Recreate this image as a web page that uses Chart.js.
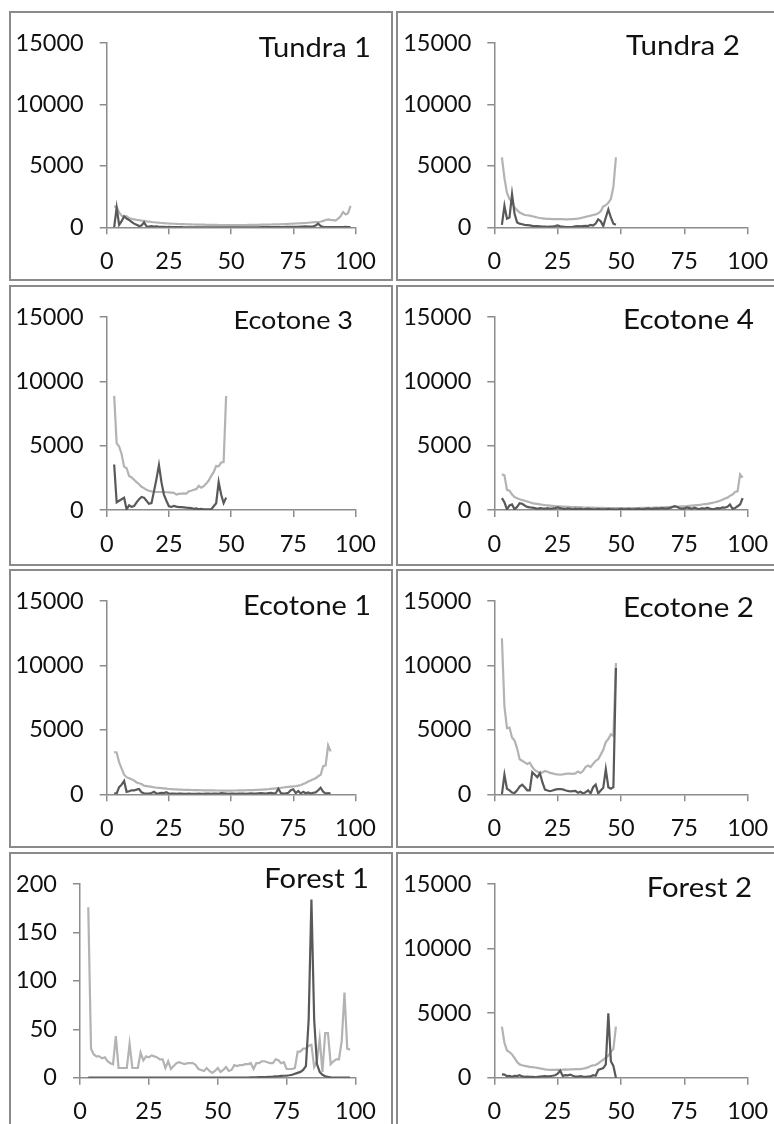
<!DOCTYPE html>
<html>
<head>
<meta charset="utf-8">
<script src="https://cdn.jsdelivr.net/npm/chart.js@4"></script>
<style>
  html, body { margin: 0; padding: 0; background: #fff; }
  body { width: 774px; height: 1124px; position: relative; overflow: hidden; }
  .panel { position: absolute; border: 2px solid #8a8a8a; box-sizing: border-box; background: #fff; }
  .panel canvas { position: absolute; left: 0; top: 0; }
</style>
</head>
<body>
<script>
// every series starts at position 3 and steps by 1
const X_START = 3;

const xTicks = [0, 25, 50, 75, 100];
const yTicks = [0, 5000, 10000, 15000];
const yTicksForest1 = [0, 50, 100, 150, 200];

const panelNames = ['Tundra 1', 'Tundra 2', 'Ecotone 3', 'Ecotone 4', 'Ecotone 1', 'Ecotone 2', 'Forest 1', 'Forest 2'];

const tundra1Light = [
  1700, 1650, 1200, 950, 850, 900, 750, 700, 650, 600,
  580, 540, 520, 480, 460, 430, 410, 390, 370, 350,
  340, 320, 310, 300, 290, 280, 270, 260, 255, 250,
  240, 235, 230, 225, 220, 215, 210, 205, 200, 198,
  195, 190, 188, 185, 183, 180, 180, 178, 178, 180,
  180, 182, 185, 188, 190, 195, 198, 200, 205, 210,
  215, 220, 225, 230, 235, 240, 245, 250, 260, 270,
  280, 290, 300, 310, 320, 330, 340, 350, 370, 390,
  410, 420, 430, 450, 520, 600, 650, 600, 580, 550,
  700, 900, 1250, 1050, 1150, 1750];
const tundra1Dark = [
  0, 1600, 200, 500, 900, 700, 600, 450, 300, 200,
  100, 150, 400, 80, 60, 100, 50, 80, 40, 30,
  40, 20, 30, 20, 10, 15, 10, 10, 5, 5,
  5, 5, 5, 5, 5, 5, 5, 5, 5, 5,
  5, 5, 5, 5, 5, 5, 5, 5, 5, 5,
  5, 5, 5, 5, 5, 5, 5, 5, 5, 10,
  10, 10, 15, 15, 20, 20, 20, 25, 25, 30,
  30, 30, 40, 40, 40, 50, 60, 80, 60, 50,
  80, 150, 300, 100, 40, 20, 15, 10, 10, 10,
  10, 10, 20, 30, 20, 10];

const tundra2Light = [
  5700, 4000, 2800, 2300, 2100, 1600, 1400, 1200, 1100, 1000,
  980, 950, 900, 850, 800, 760, 730, 700, 690, 680,
  670, 660, 660, 670, 660, 650, 650, 660, 660, 680,
  700, 750, 800, 850, 900, 950, 1000, 1050, 1150, 1300,
  1700, 1800, 2000, 2300, 3300, 5700];
const tundra2Dark = [
  200, 1750, 700, 800, 2700, 1100, 400, 300, 250, 200,
  180, 150, 120, 100, 100, 80, 60, 50, 40, 50,
  60, 100, 150, 80, 50, 30, 20, 10, 40, 80,
  100, 80, 100, 120, 100, 200, 150, 300, 650, 500,
  100, 800, 1450, 800, 300, 200];

const ecotone3Light = [
  8870, 5180, 4940, 4340, 3370, 3250, 2650, 2530, 2350, 2170,
  2000, 1800, 1700, 1570, 1500, 1450, 1420, 1400, 1400, 1400,
  1390, 1380, 1370, 1350, 1330, 1200, 1250, 1280, 1300, 1280,
  1450, 1500, 1570, 1620, 1880, 1730, 1850, 2050, 2290, 2650,
  2940, 3420, 3400, 3690, 3730, 8870];
const ecotone3Dark = [
  3540, 600, 720, 840, 960, 50, 360, 240, 300, 600,
  840, 1010, 960, 720, 480, 530, 1450, 2410, 3490, 2170,
  1200, 720, 290, 240, 310, 260, 220, 220, 200, 180,
  170, 150, 100, 130, 50, 80, 50, 60, 50, 50,
  290, 530, 2170, 1200, 530, 960];

const ecotone4Light = [
  2770, 2700, 1570, 1500, 1200, 1010, 920, 840, 780, 720,
  660, 600, 530, 500, 470, 440, 410, 380, 360, 340,
  320, 300, 290, 280, 270, 260, 250, 240, 235, 230,
  220, 210, 200, 195, 190, 185, 180, 175, 170, 165,
  160, 155, 150, 150, 145, 145, 140, 140, 140, 140,
  145, 145, 150, 150, 155, 160, 160, 165, 170, 175,
  180, 185, 190, 200, 210, 220, 230, 240, 250, 260,
  270, 280, 290, 300, 320, 340, 360, 380, 400, 430,
  460, 480, 520, 560, 600, 650, 720, 800, 900, 960,
  1100, 1200, 1400, 1450, 2770, 2530];
const ecotone4Dark = [
  920, 600, 50, 360, 430, 50, 240, 530, 480, 350,
  240, 200, 190, 150, 100, 150, 120, 100, 150, 100,
  120, 150, 200, 150, 100, 80, 120, 100, 60, 100,
  80, 100, 60, 80, 100, 80, 60, 50, 80, 60,
  50, 60, 80, 50, 60, 40, 60, 80, 60, 50,
  80, 60, 50, 80, 100, 60, 80, 100, 120, 80,
  100, 120, 100, 150, 120, 100, 150, 200, 300, 250,
  150, 100, 120, 200, 150, 100, 180, 120, 80, 150,
  100, 180, 120, 60, 100, 150, 120, 200, 180, 250,
  430, 100, 150, 290, 430, 920];

const ecotone1Light = [
  3280, 3250, 2480, 2000, 1520, 1330, 1250, 1160, 1080, 920,
  860, 800, 670, 640, 610, 580, 550, 510, 500, 480,
  460, 440, 410, 400, 390, 380, 370, 360, 350, 345,
  340, 335, 330, 325, 320, 315, 312, 310, 305, 300,
  300, 295, 295, 290, 290, 290, 290, 290, 295, 295,
  300, 305, 310, 315, 320, 325, 330, 340, 350, 360,
  370, 385, 400, 420, 440, 460, 480, 500, 530, 560,
  580, 600, 620, 640, 670, 720, 800, 880, 990, 1080,
  1160, 1250, 1400, 1520, 2190, 2240, 3800, 3330];
const ecotone1Dark = [
  70, 60, 550, 750, 1040, 190, 240, 310, 300, 360,
  410, 150, 80, 60, 50, 100, 190, 60, 80, 120,
  100, 170, 40, 60, 50, 40, 60, 50, 40, 30,
  50, 40, 30, 40, 50, 40, 30, 50, 60, 40,
  50, 60, 40, 100, 80, 60, 40, 50, 60, 40,
  50, 60, 50, 40, 60, 80, 60, 50, 80, 100,
  80, 60, 100, 120, 80, 100, 430, 100, 60, 80,
  120, 310, 390, 100, 260, 60, 200, 80, 150, 60,
  120, 150, 310, 510, 200, 60, 100, 60];

const ecotone2Light = [
  12120, 6820, 5130, 5180, 4410, 4170, 3570, 2720, 2600, 2480,
  2360, 2450, 2120, 1880, 1760, 1640, 1700, 1810, 1750, 1660,
  1620, 1570, 1550, 1520, 1540, 1590, 1600, 1610, 1580, 1620,
  1760, 1650, 1810, 2120, 2240, 2120, 2360, 2600, 2720, 3080,
  3450, 4050, 4290, 4650, 4530, 10200];
const ecotone2Dark = [
  0, 1520, 430, 310, 140, 100, 310, 600, 750, 550,
  310, 300, 1710, 1520, 1330, 1640, 920, 360, 300, 240,
  300, 360, 400, 410, 380, 310, 260, 220, 240, 260,
  120, 200, 70, 150, 310, 70, 550, 750, 70, 300,
  500, 1950, 550, 430, 550, 9800];

const forest1Light = [
  176, 30, 24, 22, 22, 20, 21, 17, 15, 14,
  43, 10, 10, 10, 10, 35, 10, 10, 10, 26,
  18, 22, 21, 23, 22, 21, 19, 19, 10, 17,
  9, 12, 15, 16, 15, 14, 15, 15, 15, 13,
  9, 8, 7, 10, 7, 5, 7, 10, 6, 8,
  11, 7, 8, 13, 12, 13, 13, 14, 14, 15,
  9, 15, 15, 17, 17, 16, 15, 15, 19, 18,
  15, 16, 9, 9, 9, 10, 27, 27, 30, 30,
  33, 34, 11, 17, 40, 6, 46, 46, 14, 17,
  19, 19, 38, 88, 30, 29];
const forest1Dark = [
  0, 0, 0, 0, 0, 0, 0, 0, 0, 0,
  0, 0, 0, 0, 0, 0, 0, 0, 0, 0,
  0, 0, 0, 0, 0, 0, 0, 0, 0, 0,
  0, 0, 0, 0, 0, 0, 0, 0, 0, 0,
  0, 0, 0, 0, 0, 0, 0, 0, 0, 0,
  0, 0, 0, 0, 0, 0, 0, 0, 0.2, 0.3,
  0.3, 0.4, 0.5, 0.6, 0.7, 0.8, 1, 1.1, 1.3, 1.5,
  1.8, 2, 2.2, 2.5, 3, 4, 5, 6, 8, 12,
  60, 184, 60, 14, 6, 3, 1.5, 0.8, 0.3, 0,
  0, 0, 0, 0, 0, 0];

const forest2Light = [
  3960, 2710, 2110, 1990, 1800, 1510, 1220, 1030, 970, 910,
  880, 840, 820, 790, 760, 720, 690, 650, 620, 600,
  610, 600, 620, 600, 620, 650, 630, 640, 650, 660,
  660, 670, 700, 740, 800, 910, 950, 980, 1100, 1270,
  1390, 1560, 1700, 2000, 2230, 3960];
const forest2Dark = [
  260, 240, 120, 150, 80, 150, 120, 190, 100, 70,
  80, 60, 60, 50, 60, 80, 100, 120, 100, 120,
  150, 190, 310, 550, 140, 200, 180, 240, 150, 80,
  90, 120, 80, 60, 80, 100, 190, 150, 600, 670,
  740, 1030, 4990, 1270, 910, 0];

const LIGHT = '#b3b3b3';
const DARK = '#595959';
const AXIS = '#8c8c8c';

// page geometry of the grid of bordered boxes
const cols = [
  { left: 9, width: 384, axisX: 106.7, xRight: 355.5 },
  { left: 396, width: 392, axisX: 494.3, xRight: 747.7 }
];
const rows = [
  { top: 11, height: 270, yTop: 28.3, yZero: 227.3 },
  { top: 285, height: 281, yTop: 302.7, yZero: 510 },
  { top: 569, height: 279, yTop: 586.3, yZero: 794.3 },
  { top: 852, height: 280, yTop: 869.7, yZero: 1077.7 }
];

const panels = [
  { row: 0, col: 0, light: tundra1Light, dark: tundra1Dark, ticks: yTicks, title: { right: 371, base: 57, size: 27 } },
  { row: 0, col: 1, light: tundra2Light, dark: tundra2Dark, ticks: yTicks, title: { right: 740, base: 55, size: 27.4 } },
  { row: 1, col: 0, light: ecotone3Light, dark: ecotone3Dark, ticks: yTicks, title: { right: 353, base: 329, size: 25 } },
  { row: 1, col: 1, light: ecotone4Light, dark: ecotone4Dark, ticks: yTicks, title: { right: 754, base: 329, size: 27.4 } },
  { row: 2, col: 0, light: ecotone1Light, dark: ecotone1Dark, ticks: yTicks, title: { right: 371, base: 615, size: 26.8 } },
  { row: 2, col: 1, light: ecotone2Light, dark: ecotone2Dark, ticks: yTicks, title: { right: 754, base: 617, size: 27.4 } },
  { row: 3, col: 0, light: forest1Light, dark: forest1Dark, ticks: yTicksForest1, axisX: 80, title: { right: 369, base: 888, size: 27 } },
  { row: 3, col: 1, light: forest2Light, dark: forest2Dark, ticks: yTicks, title: { right: 752, base: 897, size: 27.2 } }
];

const toPoints = vals => vals.map((v, i) => ({ x: X_START + i, y: v }));

// panel name, drawn underneath the lines, slightly widened like the tick text
const panelTitle = {
  id: 'panelTitle',
  beforeDatasetsDraw(chart, args, opts) {
    const ctx = chart.ctx;
    ctx.save();
    ctx.translate(opts.x, opts.y);
    ctx.scale(1.08, 1);
    ctx.font = `${opts.size}px Lato`;
    ctx.fillStyle = '#111';
    ctx.textAlign = 'right';
    ctx.textBaseline = 'alphabetic';
    ctx.fillText(opts.text, 0, 0);
    ctx.restore();
  }
};

function drawAll() {
  Chart.defaults.font.family = 'Lato';
  Chart.defaults.color = '#111';

  panels.forEach((p, idx) => {
    const col = cols[p.col], row = rows[p.row];
    const box = document.createElement('div');
    box.className = 'panel';
    box.style.left = col.left + 'px';
    box.style.top = row.top + 'px';
    box.style.width = col.width + 'px';
    box.style.height = row.height + 'px';

    const cw = col.width - 4, ch = row.height - 4;
    const ox = col.left + 2, oy = row.top + 2;
    const cv = document.createElement('canvas');
    cv.width = cw; cv.height = ch;
    cv.style.width = cw + 'px'; cv.style.height = ch + 'px';
    box.appendChild(cv);
    document.body.appendChild(box);

    const axisX = p.axisX || col.axisX;
    const tickFont = { size: 23.5 };
    const gridOpts = { drawOnChartArea: false, drawTicks: true, tickLength: 7, color: AXIS, lineWidth: 1.5 };
    const borderOpts = { display: true, color: AXIS, width: 1.5 };

    new Chart(cv, {
      type: 'line',
      data: {
        datasets: [
          { data: toPoints(p.dark), borderColor: DARK, borderWidth: 2.2 },
          { data: toPoints(p.light), borderColor: LIGHT, borderWidth: 2.2 }
        ]
      },
      options: {
        responsive: false,
        animation: false,
        layout: { padding: { top: row.yTop - oy, right: ox + cw - col.xRight, left: 0, bottom: 0 } },
        elements: { point: { radius: 0 }, line: { tension: 0 } },
        plugins: {
          legend: { display: false },
          tooltip: { enabled: false },
          panelTitle: { text: panelNames[idx], size: p.title.size, x: p.title.right - ox, y: p.title.base - oy }
        },
        scales: {
          x: {
            type: 'linear', min: xTicks[0], max: xTicks[xTicks.length - 1],
            afterBuildTicks: s => { s.ticks = xTicks.map(v => ({ value: v })); },
            afterFit: s => { s.height = oy + ch - row.yZero; },
            grid: gridOpts, border: borderOpts,
            ticks: { font: tickFont, color: '#111', padding: 13, maxRotation: 0, callback: v => String(v) }
          },
          y: {
            min: p.ticks[0], max: p.ticks[p.ticks.length - 1],
            afterBuildTicks: s => { s.ticks = p.ticks.map(v => ({ value: v })); },
            afterFit: s => { s.width = axisX - ox; },
            grid: gridOpts, border: borderOpts,
            ticks: { font: tickFont, color: '#111', padding: 16, callback: v => String(v) }
          }
        }
      },
      plugins: [panelTitle]
    });
  });
}

document.fonts.load('23px Lato').then(drawAll, drawAll);
</script>
</body>
</html>
